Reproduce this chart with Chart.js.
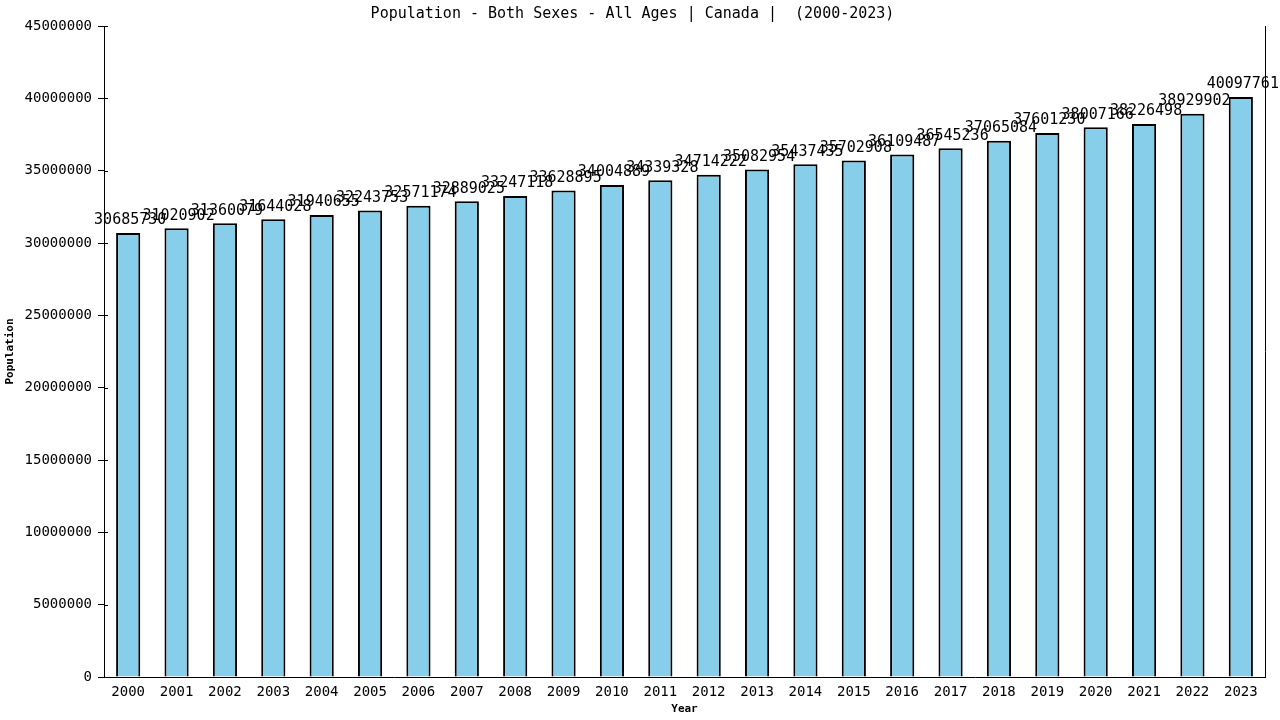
<!DOCTYPE html>
<html>
<head>
<meta charset="utf-8">
<script src="https://cdn.jsdelivr.net/npm/chart.js@4/dist/chart.umd.min.js"></script>
<style>
  html, body { margin: 0; padding: 0; background: #fff; }
</style>
</head>
<body>
<canvas id="chart" width="1280" height="720"></canvas>
<script>
// Données
const years = ['2000', '2001', '2002', '2003', '2004', '2005', '2006', '2007', '2008', '2009', '2010', '2011',
  '2012', '2013', '2014', '2015', '2016', '2017', '2018', '2019', '2020', '2021', '2022', '2023'];
const population = [30685730, 31020902, 31360079, 31644028, 31940655, 32243753, 32571174, 32889025,
  33247118, 33628895, 34004889, 34339328, 34714222, 35082954, 35437435, 35702908, 36109487, 36545236,
  37065084, 37601230, 38007166, 38226498, 38929902, 40097761];
const yTicks = [0, 5000000, 10000000, 15000000, 20000000, 25000000, 30000000, 35000000, 40000000, 45000000];

const FONT = "'DejaVu Sans Mono', 'Liberation Mono', monospace";

// Étiquettes au-dessus des barres, bordure droite, petites graduations intérieures
const barLabels = {
  id: 'barLabels',
  afterDatasetsDraw(chart) {
    const ctx = chart.ctx;
    const meta = chart.getDatasetMeta(0);
    const a = chart.chartArea;
    const y = chart.scales.y;
    ctx.save();
    ctx.strokeStyle = '#000';
    ctx.lineWidth = 1;
    ctx.beginPath();
    ctx.moveTo(a.right + 0.5, a.top);
    ctx.lineTo(a.right + 0.5, a.bottom);
    y.ticks.forEach(t => {
      const py = Math.round(y.getPixelForValue(t.value)) + 0.5;
      ctx.moveTo(a.left, py);
      ctx.lineTo(a.left + 4, py);
    });
    ctx.stroke();

    ctx.font = `15px ${FONT}`;
    ctx.fillStyle = '#000';
    ctx.textAlign = 'center';
    ctx.textBaseline = 'bottom';
    meta.data.forEach((bar, i) => {
      ctx.fillText(String(chart.data.datasets[0].data[i]), bar.x + 2, bar.y - 5);
    });
    ctx.restore();
  }
};

new Chart(document.getElementById('chart').getContext('2d'), {
  type: 'bar',
  data: {
    labels: years,
    datasets: [{
      label: 'Population',
      data: population,
      backgroundColor: '#87CEEB',
      borderColor: '#000',
      borderWidth: 2,
      barPercentage: 0.5,
      categoryPercentage: 1
    }]
  },
  options: {
    responsive: false,
    animation: false,
    layout: { padding: { right: 15 } },
    plugins: {
      legend: { display: false },
      tooltip: { enabled: false },
      title: {
        display: true,
        text: 'Population - Both Sexes - All Ages | Canada |  (2000-2023)',
        color: '#000',
        font: { family: FONT, size: 15, weight: 'normal' },
        padding: { top: 5, bottom: 3 }
      }
    },
    scales: {
      x: {
        grid: { display: false, drawTicks: false },
        border: { display: true, color: '#000', width: 1 },
        ticks: { color: '#000', font: { family: FONT, size: 14 }, padding: 7, maxRotation: 0 },
        title: {
          display: true,
          text: 'Year',
          color: '#000',
          font: { family: FONT, size: 11, weight: 'bold' },
          padding: { top: 0, bottom: 4 }
        },
        afterFit(scale) { scale.height = 43; }
      },
      y: {
        min: 0,
        max: 45000000,
        afterBuildTicks(scale) { scale.ticks = yTicks.map(v => ({ value: v })); },
        grid: { drawOnChartArea: false, color: '#000', tickLength: 6 },
        border: { display: true, color: '#000', width: 1 },
        ticks: { color: '#000', font: { family: FONT, size: 14 }, padding: 6, callback: v => String(v) },
        title: {
          display: true,
          text: 'Population',
          color: '#000',
          font: { family: FONT, size: 11, weight: 'bold' },
          padding: { top: 4, bottom: 0 }
        },
        afterFit(scale) { scale.width = 104; }
      }
    }
  },
  plugins: [barLabels]
});
</script>
</body>
</html>
